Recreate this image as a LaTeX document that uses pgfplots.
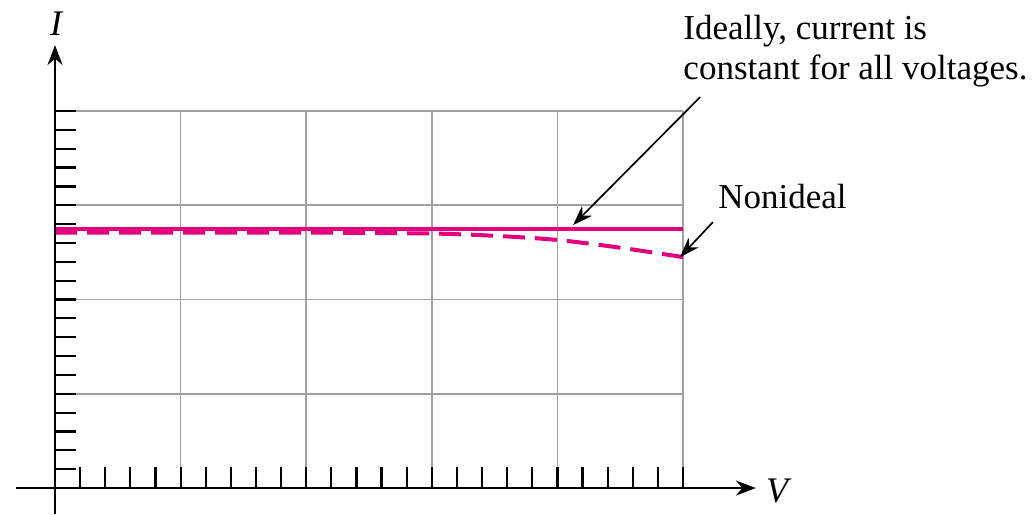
\documentclass[border=0pt]{standalone}
\usepackage{fontspec}
\setmainfont{Liberation Serif}
\usepackage{pgfplots}
\pgfplotsset{compat=1.18}
\usetikzlibrary{arrows.meta}
\definecolor{curve}{RGB}{228,0,124}
\definecolor{gridc}{RGB}{160,160,160}

% ideal and non-ideal current-source I-V curves
\pgfplotstableread{
v    i
0    13.75
25   13.75
}\ideal
\pgfplotstableread{
v    i
0    13.55
5    13.55
10   13.55
15   13.50
17.5 13.38
20   13.16
22.5 12.75
25   12.25
}\nonideal

\begin{document}
\begin{tikzpicture}
\begin{axis}[
  scale only axis,
  width=369.9pt, height=234.5pt,
  xmin=-1.55, xmax=27.9,
  ymin=-1.38, ymax=23.5,
  axis lines=middle,
  axis on top,
  axis line style={line width=1.2pt, black},
  x axis line style={-{Stealth[length=10pt,width=7.5pt]}},
  y axis line style={-{Stealth[length=10pt,width=7.5pt]}},
  xtick={1,...,25}, ytick={1,...,20},
  xticklabels={}, yticklabels={},
  tick align=inside,
  major tick length=10.5pt,
  tick style={line width=1.1pt, black},
  clip=false,
]
% grid
\pgfplotsinvokeforeach{5,10,15,20,25}{
  \draw[gridc, line width=0.8pt] (axis cs:#1,0) -- (axis cs:#1,20);
}
\pgfplotsinvokeforeach{5,10,15,20}{
  \draw[gridc, line width=0.8pt] (axis cs:0,#1) -- (axis cs:25,#1);
}

\addplot[curve, line width=2pt, no marks] table[x=v, y=i] {\ideal};
\addplot[curve, line width=2pt, no marks, smooth, dash pattern=on 11pt off 5pt] table[x=v, y=i] {\nonideal};

% labels
\node[font=\fontsize{18}{20}\selectfont\itshape] at (axis cs:0.04,24.64) {I};
\node[font=\fontsize{18}{20}\selectfont\itshape] at (axis cs:28.74,-0.16) {V};
\node[anchor=base west, font=\fontsize{17.5}{20}\selectfont, inner sep=0pt] at (axis cs:25.0,23.77) {Ideally, current is};
\node[anchor=base west, font=\fontsize{17.5}{20}\selectfont, inner sep=0pt] at (axis cs:25.0,21.65) {constant for all voltages.};
\node[anchor=base west, font=\fontsize{17.5}{20}\selectfont, inner sep=0pt] at (axis cs:26.39,14.85) {Nonideal};

% arrows
\draw[line width=0.85pt, -{Stealth[length=10pt,width=7pt]}] (axis cs:25.68,20.74) -- (axis cs:20.62,13.95);
\draw[line width=0.85pt, -{Stealth[length=10pt,width=7pt]}] (axis cs:26.19,14.11) -- (axis cs:24.88,12.25);

\coordinate (bl) at (axis cs:-2.19,-1.38);
\coordinate (tr) at (axis cs:38.93,25.89);
\end{axis}
\pgfresetboundingbox
\path[use as bounding box] (bl) rectangle (tr);
\end{tikzpicture}
\end{document}
